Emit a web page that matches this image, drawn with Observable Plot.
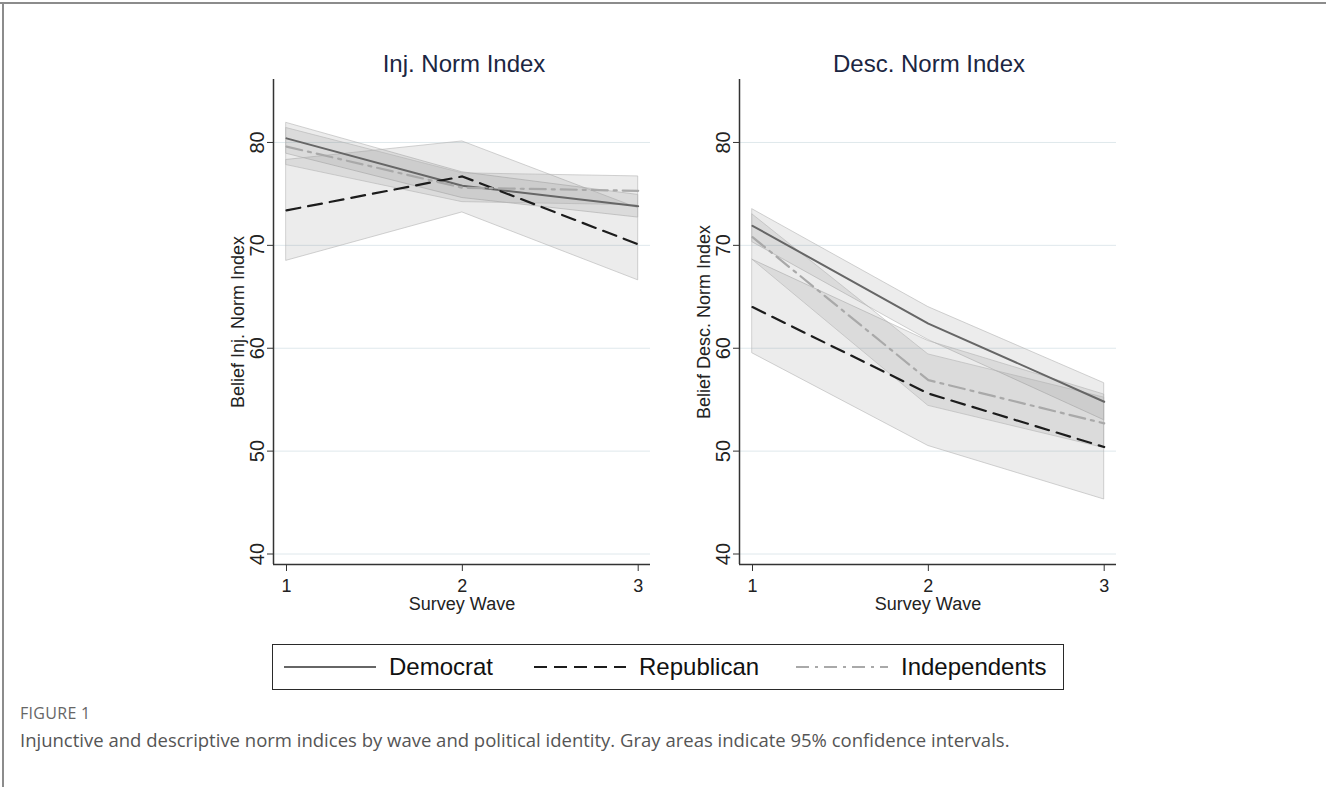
<!DOCTYPE html>
<html>
<head>
<meta charset="utf-8">
<script src="https://cdn.jsdelivr.net/npm/d3@7"></script>
<script src="https://cdn.jsdelivr.net/npm/@observablehq/plot@0.6"></script>
<style>
  html, body { margin: 0; padding: 0; background: #fff; }
  #wrap { position: relative; width: 1326px; height: 787px; overflow: hidden; background: #fff;
          font-family: "Liberation Sans", Arial, Helvetica, sans-serif; }
  .frameTop { position: absolute; left: 0; top: 2px; width: 1326px; height: 2px; background: #8c8c8c; }
  .frameLeft { position: absolute; left: 2px; top: 2px; width: 2px; height: 785px; background: #8c8c8c; }
  .panel { position: absolute; top: 60px; }
  .ptitle { position: absolute; top: 52px; width: 400px; text-align: center; font-size: 24px; line-height: 24px; color: #1b2642; }
  #legend { position: absolute; left: 272px; top: 644px; width: 790px; height: 44px; border: 1.5px solid #2a2a2a; }
  .litem { position: absolute; top: 0; height: 44px; }
  .litem svg { position: absolute; top: 0; }
  .litem span { position: absolute; top: 9px; font-size: 24px; line-height: 26px; color: #111; white-space: nowrap; }
  #figlab { position: absolute; left: 20px; top: 702px; font-family: "Open Sans", "Noto Sans", sans-serif; font-size: 16px; color: #666; letter-spacing: 0.3px; }
  #caption { position: absolute; left: 20px; top: 727px; font-family: "Open Sans", "Noto Sans", sans-serif; font-size: 18.5px; color: #555; white-space: nowrap; }
</style>
</head>
<body>
<div id="wrap">
  <div class="frameTop"></div>
  <div class="frameLeft"></div>
</div>
<script>
// ---------- data ----------
const waves = [1, 2, 3];
const parties = ["Democrat", "Republican", "Independents"];
const yTicks = [40, 50, 60, 70, 80];
const panelTitles = ["Inj. Norm Index", "Desc. Norm Index"];
const yLabels = ["Belief Inj. Norm Index", "Belief Desc. Norm Index"];
const xLabel = "Survey Wave";

// Injunctive norm index: means and 95% CI bounds by wave
const injDemMean = [80.4, 75.8, 73.8];
const injDemLo   = [78.9, 74.6, 72.7];
const injDemHi   = [81.9, 77.1, 74.9];
const injRepMean = [73.4, 76.7, 70.1];
const injRepLo   = [68.5, 73.2, 66.6];
const injRepHi   = [78.3, 80.1, 73.6];
const injIndMean = [79.6, 75.6, 75.3];
const injIndLo   = [77.8, 74.2, 73.9];
const injIndHi   = [81.4, 77.0, 76.7];

// Descriptive norm index
const descDemMean = [71.9, 62.4, 54.8];
const descDemLo   = [70.3, 60.8, 53.0];
const descDemHi   = [73.5, 64.0, 56.6];
const descRepMean = [64.0, 55.6, 50.4];
const descRepLo   = [59.5, 50.5, 45.3];
const descRepHi   = [68.6, 60.7, 55.5];
const descIndMean = [70.8, 56.9, 52.7];
const descIndLo   = [68.6, 54.4, 50.3];
const descIndHi   = [73.0, 59.4, 55.2];

// ---------- build tables ----------
function rowsFor(series) {
  const out = [];
  series.forEach(([party, mean, lo, hi]) => {
    waves.forEach((w, i) => out.push({wave: w, party, mean: mean[i], lo: lo[i], hi: hi[i]}));
  });
  return out;
}
const injRows = rowsFor([
  [parties[0], injDemMean, injDemLo, injDemHi],
  [parties[1], injRepMean, injRepLo, injRepHi],
  [parties[2], injIndMean, injIndLo, injIndHi]
]);
const descRows = rowsFor([
  [parties[0], descDemMean, descDemLo, descDemHi],
  [parties[1], descRepMean, descRepLo, descRepHi],
  [parties[2], descIndMean, descIndLo, descIndHi]
]);

// ---------- styles ----------
const lineStyle = {
  Democrat:     {stroke: "#666666", width: 2,   dash: null},
  Republican:   {stroke: "#1c1c1c", width: 2.2, dash: "14,8"},
  Independents: {stroke: "#a9a9a9", width: 2.2, dash: "16,6,3,6"}
};
const FONT = '"Liberation Sans", Arial, Helvetica, sans-serif';
const xDomain = [0.926, 3.07];
const yDomain = [38.98, 86.12];
const W = 470, H = 560;

function panel(rows, yLabel) {
  return Plot.plot({
    width: W, height: H,
    marginLeft: 83, marginRight: 10, marginTop: 19, marginBottom: 56,
    style: {fontFamily: FONT, color: "#222", background: "transparent", overflow: "visible"},
    x: {domain: xDomain},
    y: {domain: yDomain},
    marks: [
      Plot.gridY(yTicks, {stroke: "#dfe8ec", strokeOpacity: 1, strokeWidth: 1}),
      Plot.areaY(rows, {x: "wave", y1: "lo", y2: "hi", z: "party",
        fill: "#7a7a7a", fillOpacity: 0.14, stroke: "#b4b4b4", strokeOpacity: 0.6, strokeWidth: 1}),
      ...parties.map(p => Plot.line(rows.filter(d => d.party === p), {
        x: "wave", y: "mean", stroke: lineStyle[p].stroke, strokeWidth: lineStyle[p].width,
        strokeDasharray: lineStyle[p].dash
      })),
      Plot.ruleX([xDomain[0]], {stroke: "#333", strokeWidth: 1.5}),
      Plot.ruleY([yDomain[0]], {stroke: "#333", strokeWidth: 1.5}),
      Plot.axisX(waves, {tickSize: 7, tickPadding: 8, fontSize: 18, tickFormat: d3.format("d"), label: null, stroke: "#333"}),
      Plot.axisY(yTicks, {tickSize: 6, tickRotate: -90, tickPadding: 4, fontSize: 20, tickFormat: d3.format("d"), label: null, stroke: "#333"}),
      Plot.text([xLabel], {frameAnchor: "bottom", dy: 33, lineAnchor: "top", textAnchor: "middle", fontSize: 18, fill: "#222"}),
      Plot.text([yLabel], {frameAnchor: "left", dx: -42, rotate: -90, lineAnchor: "top", textAnchor: "middle", fontSize: 18, fill: "#222"})
    ]
  });
}

const wrap = document.getElementById("wrap");
const panelLefts = [190, 656];
const titleCenters = [464, 929];
[[injRows, 0], [descRows, 1]].forEach(([rows, i]) => {
  const div = document.createElement("div");
  div.className = "panel";
  div.style.left = panelLefts[i] + "px";
  div.appendChild(panel(rows, yLabels[i]));
  wrap.appendChild(div);
  const t = document.createElement("div");
  t.className = "ptitle";
  t.style.left = (titleCenters[i] - 200) + "px";
  t.textContent = panelTitles[i];
  wrap.appendChild(t);
});

// ---------- legend ----------
const legend = document.createElement("div");
legend.id = "legend";
const legendX = [10, 260, 522];
parties.forEach((p, i) => {
  const item = document.createElement("div");
  item.className = "litem";
  item.style.left = legendX[i] + "px";
  const s = lineStyle[p];
  item.innerHTML = `<svg width="95" height="44"><line x1="1" x2="93" y1="22" y2="22" stroke="${s.stroke}" stroke-width="${s.width}" ${s.dash ? `stroke-dasharray="${s.dash === "14,8" ? "13,7" : "13,6,3,6"}"` : ""}/></svg><span style="left:106px">${p}</span>`;
  legend.appendChild(item);
});
wrap.appendChild(legend);

const fl = document.createElement("div");
fl.id = "figlab"; fl.textContent = "FIGURE 1";
wrap.appendChild(fl);
const cap = document.createElement("div");
cap.id = "caption";
cap.textContent = "Injunctive and descriptive norm indices by wave and political identity. Gray areas indicate 95% confidence intervals.";
wrap.appendChild(cap);
</script>
</body>
</html>
